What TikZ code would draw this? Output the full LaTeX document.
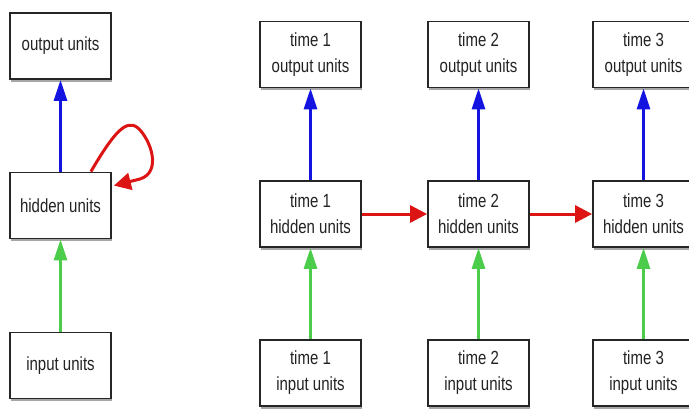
\documentclass[tikz,border=0pt]{standalone}
\usepackage{fontspec}
\setmainfont[FakeStretch=0.79]{Liberation Sans}
\usetikzlibrary{arrows.meta,shadows}
\definecolor{upblue}{RGB}{20,20,225}
\definecolor{upgreen}{RGB}{75,205,75}
\definecolor{recred}{RGB}{220,20,20}
\definecolor{boxtext}{RGB}{35,35,35}
\tikzset{
  unitbox/.style={draw=black!85, line width=1.8pt, fill=white, text=boxtext,
    minimum width=101pt, minimum height=66pt, align=center,
    font=\fontsize{19}{26}\selectfont,
    drop shadow={shadow xshift=0.6pt, shadow yshift=-2.6pt, fill=black, opacity=0.35}},
  feed/.style={line width=3pt, -{Triangle[length=21pt, width=13pt]}},
  recur/.style={line width=3pt, recred, -{Triangle[length=17pt, width=17pt]}}
}
\begin{document}
\begin{tikzpicture}[x=1pt, y=-1pt]
        \useasboundingbox (0,0) rectangle (689,408);
        % folded network
        \node[unitbox] (out) at (60.5,46) {output units};
        \node[unitbox] (hid) at (60.5,205.5) {hidden units};
        \node[unitbox] (in) at (60.5,365.5) {input units};
        \draw[feed, upblue] (hid.north) -- (out.south);
        \draw[feed, upgreen] (in.north) -- (hid.south);
        \coordinate (loopa) at ([xshift=-21pt]hid.north east);
        \coordinate (loopb) at ([shift={(2pt,-14pt)}]hid.north east);
        \draw[recur] (loopa) .. controls (113,134) and (126,118) .. (138,128)
          .. controls (151,140) and (162,172) .. (140,179) -- (loopb);
        % unfolded in time
        \foreach \t/\xx in {1/310.5, 2/478.5, 3/643.5} {
          \node[unitbox] (out\t) at (\xx,54.5) {time \t\\output units};
          \node[unitbox] (hid\t) at (\xx,214) {time \t\\hidden units};
          \node[unitbox] (in\t) at (\xx,373) {time \t\\input units};
          \draw[feed, upblue] (hid\t.north) -- (out\t.south);
          \draw[feed, upgreen] (in\t.north) -- (hid\t.south);
        }
        \draw[recur] (hid1.east) -- (hid2.west);
        \draw[recur] (hid2.east) -- (hid3.west);
      \end{tikzpicture}
\end{document}
